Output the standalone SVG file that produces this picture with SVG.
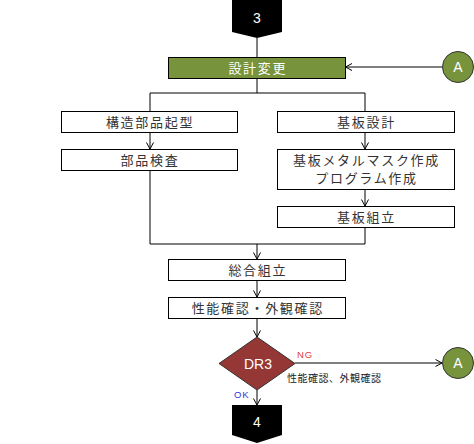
<svg xmlns="http://www.w3.org/2000/svg" width="474" height="444" viewBox="0 0 474 444">
<style>
.box{fill:#fff;stroke:#000;stroke-width:1}
.t{font-family:"Noto Sans CJK JP","Liberation Sans",sans-serif;font-size:13px;letter-spacing:1.7px;fill:#333;text-anchor:middle}
.w{fill:#fff}
.lat{font-family:"Liberation Sans",Arial,sans-serif;fill:#fff;text-anchor:middle;font-size:14px}
.ln{fill:none;stroke:#000;stroke-width:1}
.arr{marker-end:url(#ah)}
.circ{fill:#77933C;stroke:#333;stroke-width:1}
</style>
<defs>
<marker id="ah" markerUnits="userSpaceOnUse" markerWidth="10" markerHeight="10" refX="7" refY="4" orient="auto">
<path d="M0.5,0.5 L7,4 L0.5,7.5" fill="none" stroke="#000" stroke-width="1"/>
</marker>
</defs>
<g id="connectors">
<line class="ln" x1="257" y1="38" x2="257" y2="57"/>
<line class="ln arr" x1="442" y1="67" x2="345.5" y2="67"/>
<line class="ln" x1="257" y1="78" x2="257" y2="93"/>
<line class="ln" x1="150" y1="93" x2="365" y2="93"/>
<line class="ln" x1="150" y1="93" x2="150" y2="111"/>
<line class="ln" x1="365" y1="93" x2="365" y2="111"/>
<line class="ln arr" x1="150" y1="132" x2="150" y2="149"/>
<line class="ln arr" x1="365" y1="132" x2="365" y2="149"/>
<line class="ln arr" x1="365" y1="189" x2="365" y2="206"/>
<polyline class="ln" points="150,171 150,244 365,244 365,227"/>
<line class="ln arr" x1="257" y1="244" x2="257" y2="259"/>
<line class="ln arr" x1="257" y1="280" x2="257" y2="297"/>
<line class="ln arr" x1="257" y1="318" x2="257" y2="337"/>
<line class="ln arr" x1="295" y1="363" x2="442" y2="363"/>
<line class="ln arr" x1="257" y1="390" x2="257" y2="405"/>
<text x="297" y="358" style="font-family:'Liberation Sans',Arial,sans-serif;font-size:9.5px;fill:#E04040;letter-spacing:0.8px">NG</text>
<text x="287" y="382" style="font-family:'Noto Sans CJK JP',sans-serif;font-size:10px;fill:#222;letter-spacing:0.5px">性能確認、外観確認</text>
<text x="234" y="398" style="font-family:'Liberation Sans',Arial,sans-serif;font-size:9.5px;fill:#3333DD;letter-spacing:0.8px">OK</text>
</g>
<g id="start3">
<polygon points="232,0 282,0 282,32 257,38 232,32" fill="#000"/>
<text class="lat" x="257" y="23">3</text>
</g>
<g id="change">
<rect x="168.5" y="57.5" width="177" height="21" fill="#77933C" stroke="#000"/>
<text class="t w" x="257.8" y="72.5" style="fill:#fff">設計変更</text>
</g>
<g id="circleA1">
<circle class="circ" cx="458" cy="67" r="15.5"/>
<text class="lat" x="458" y="72">A</text>
</g>
<g id="structure">
<rect class="box" x="61.5" y="111.5" width="176" height="21"/>
<text class="t" x="150" y="126.5">構造部品起型</text>
</g>
<g id="inspect">
<rect class="box" x="61.5" y="149.5" width="176" height="21"/>
<text class="t" x="150" y="164.5">部品検査</text>
</g>
<g id="pcbdesign">
<rect class="box" x="277.5" y="111.5" width="177" height="21"/>
<text class="t" x="366.5" y="126.5">基板設計</text>
</g>
<g id="mask">
<rect class="box" x="277.5" y="149.5" width="177" height="40"/>
<text class="t" x="366.5" y="165">基板メタルマスク作成</text>
<text class="t" x="366.5" y="183">プログラム作成</text>
</g>
<g id="pcbassy">
<rect class="box" x="277.5" y="206.5" width="177" height="21"/>
<text class="t" x="366.5" y="221.5">基板組立</text>
</g>
<g id="assy">
<rect class="box" x="168.5" y="259.5" width="177" height="21"/>
<text class="t" x="257.8" y="274.5">総合組立</text>
</g>
<g id="check">
<rect class="box" x="168.5" y="297.5" width="177" height="21"/>
<text class="t" x="257.8" y="312.5">性能確認・外観確認</text>
</g>
<g id="dr3">
<polygon points="257,337 295,363.5 257,390 219,363.5" fill="#953735" stroke="#333" stroke-width="1"/>
<text class="lat" x="258" y="368.5">DR3</text>
</g>
<g id="circleA2">
<circle class="circ" cx="458" cy="363" r="15.5"/>
<text class="lat" x="458" y="368">A</text>
</g>
<g id="end4">
<polygon points="232,405 282,405 282,435 257,443 232,435" fill="#000"/>
<text class="lat" x="257" y="427">4</text>
</g>
</svg>
